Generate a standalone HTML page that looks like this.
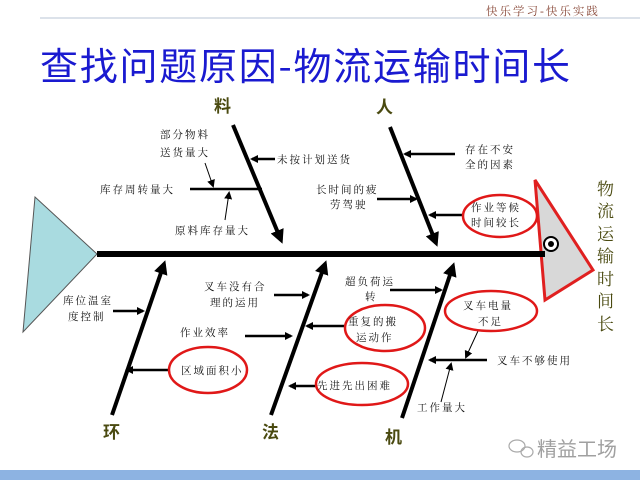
<!DOCTYPE html>
<html><head><meta charset="utf-8"><style>
html,body{margin:0;padding:0;background:#fff;}
svg{display:block;}
.s{font-family:"Liberation Serif","Noto Serif CJK SC","Noto Sans CJK SC",serif;font-size:10.5px;fill:#111;letter-spacing:2px;}
.b{font-family:"Noto Sans CJK SC","WenQuanYi Zen Hei",sans-serif;font-size:17px;font-weight:bold;fill:#4a4a10;}
</style></head><body>
<svg width="640" height="480" viewBox="0 0 640 480" xmlns="http://www.w3.org/2000/svg">
<defs>
<marker id="a" markerWidth="8" markerHeight="8" refX="6" refY="4" orient="auto" markerUnits="userSpaceOnUse"><path d="M0,0 L8,4 L0,8 Z" fill="#000"/></marker>
<marker id="A" markerWidth="14" markerHeight="14" refX="10" refY="7" orient="auto" markerUnits="userSpaceOnUse"><path d="M0,0 L14,7 L0,14 Z" fill="#000"/></marker>
</defs>
<text x="486" y="15" font-family="Liberation Serif,'Noto Serif CJK SC',serif" font-size="11.5" fill="#8a4a3a" letter-spacing="2">快乐学习-快乐实践</text>
<line x1="40" y1="18" x2="640" y2="18" stroke="#b8c4d4" stroke-width="1"/>
<text x="40" y="80" font-family="'Noto Sans CJK SC',sans-serif" font-size="38" fill="#1a1ad0" textLength="530">查找问题原因-物流运输时间长</text>
<polygon points="35,197 97,254 23,332" fill="#a9dbe0" stroke="#555" stroke-width="1"/>
<polygon points="535,180 593,270 545,300" fill="#d8d8d8" stroke="#e02020" stroke-width="3"/>
<circle cx="551" cy="244" r="7" fill="#fff" stroke="#000" stroke-width="2"/><circle cx="551" cy="244" r="3" fill="#000"/>
<line x1="97" y1="254" x2="545" y2="254" stroke="#000" stroke-width="6"/>
<g font-family="'Noto Serif CJK SC',serif" font-size="17" fill="#4a4a10">
<text x="597" y="195">物</text><text x="597" y="217">流</text><text x="597" y="240">运</text><text x="597" y="262">输</text><text x="597" y="285">时</text><text x="597" y="307">间</text><text x="597" y="330">长</text></g>
<g stroke="#000" stroke-width="4" fill="none">
<line x1="233" y1="125" x2="281" y2="240" marker-end="url(#A)"/>
<line x1="390" y1="127" x2="436" y2="243" marker-end="url(#A)"/>
<line x1="112" y1="415" x2="164" y2="264" marker-end="url(#A)"/>
<line x1="271" y1="415" x2="325" y2="264" marker-end="url(#A)"/>
<line x1="402" y1="418" x2="453" y2="266" marker-end="url(#A)"/>
</g>
<text class="b" x="214" y="112">料</text><text class="b" x="376" y="113">人</text>
<text class="b" x="103" y="438">环</text><text class="b" x="262" y="438">法</text><text class="b" x="385" y="443">机</text>
<g stroke="#000" stroke-width="2.5" fill="none">
<line x1="275" y1="159" x2="252" y2="159" marker-end="url(#a)"/>
<line x1="190" y1="189" x2="262" y2="189"/>
<line x1="455" y1="154" x2="405" y2="154" marker-end="url(#a)"/>
<line x1="377" y1="199" x2="416" y2="199" marker-end="url(#a)"/>
<line x1="462" y1="215" x2="430" y2="215" marker-end="url(#a)"/>
<line x1="113" y1="311" x2="143" y2="311" marker-end="url(#a)"/>
<line x1="169" y1="370" x2="127" y2="370" marker-end="url(#a)"/>
<line x1="274" y1="295" x2="308" y2="295" marker-end="url(#a)"/>
<line x1="245" y1="336" x2="291" y2="336" marker-end="url(#a)"/>
<line x1="345" y1="326" x2="307" y2="326" marker-end="url(#a)"/>
<line x1="316" y1="386" x2="290" y2="386" marker-end="url(#a)"/>
<line x1="390" y1="290" x2="441" y2="290" marker-end="url(#a)"/>
<line x1="487" y1="360" x2="430" y2="360" marker-end="url(#a)"/>
</g>
<g stroke="#000" stroke-width="1" fill="none">
<line x1="205" y1="163" x2="213" y2="186" marker-end="url(#a)"/>
<line x1="225" y1="220" x2="229" y2="193" marker-end="url(#a)"/>
<line x1="478" y1="331" x2="466" y2="357" marker-end="url(#a)"/>
<line x1="441" y1="402" x2="451" y2="364" marker-end="url(#a)"/>
</g>
<g fill="none" stroke="#e01818" stroke-width="2.5">
<ellipse cx="500" cy="216" rx="37" ry="21"/>
<ellipse cx="208" cy="370" rx="39" ry="23"/>
<ellipse cx="385" cy="328" rx="40" ry="23"/>
<ellipse cx="362" cy="384" rx="46" ry="21"/>
<ellipse cx="491" cy="311" rx="46" ry="20"/>
</g>
<g class="s">
<text class="s" x="160" y="138">部分物料</text><text class="s" x="160" y="156">送货量大</text>
<text class="s" x="100" y="193">库存周转量大</text>
<text class="s" x="175" y="234">原料库存量大</text>
<text class="s" x="277" y="163">未按计划送货</text>
<text class="s" x="465" y="153">存在不安</text><text class="s" x="465" y="168">全的因素</text>
<text class="s" x="316" y="193">长时间的疲</text><text class="s" x="330" y="208">劳驾驶</text>
<text class="s" x="471" y="211">作业等候</text><text class="s" x="471" y="226">时间较长</text>
<text class="s" x="63" y="304">库位温室</text><text class="s" x="68" y="320">度控制</text>
<text class="s" x="181" y="374">区域面积小</text>
<text class="s" x="204" y="290">叉车没有合</text><text class="s" x="210" y="306">理的运用</text>
<text class="s" x="180" y="336">作业效率</text>
<text class="s" x="348" y="325">重复的搬</text><text class="s" x="356" y="341">运动作</text>
<text class="s" x="317" y="389">先进先出困难</text>
<text class="s" x="345" y="285">超负荷运</text><text class="s" x="365" y="300">转</text>
<text class="s" x="463" y="309">叉车电量</text><text class="s" x="478" y="325">不足</text>
<text class="s" x="497" y="364">叉车不够使用</text>
<text class="s" x="417" y="411">工作量大</text>
</g>
<g stroke="#aaa" fill="none" stroke-width="1.2"><ellipse cx="517" cy="446" rx="8" ry="6"/><ellipse cx="527" cy="452" rx="6" ry="5"/></g>
<text x="537" y="456" font-family="'Noto Sans CJK SC',sans-serif" font-size="20" fill="#a0a0a0">精益工场</text>
<rect x="0" y="470" width="640" height="10" fill="#8db3e2"/>
</svg>
</body></html>
